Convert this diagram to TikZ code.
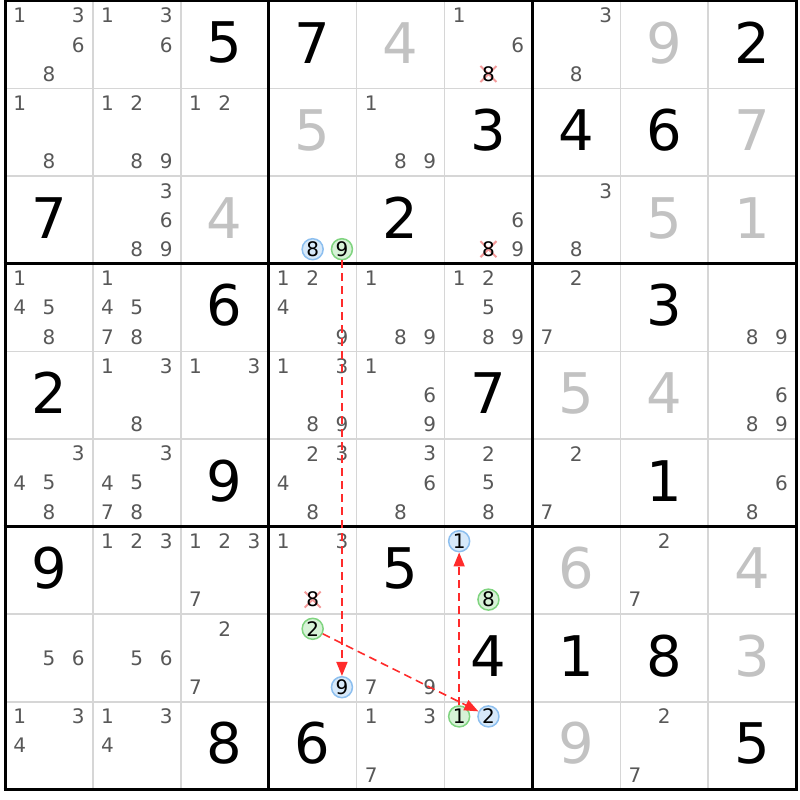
\documentclass[tikz,border=0pt]{standalone}
\usepackage{fontspec}
\setmainfont{DejaVu Sans}
\usepackage{tikz}
\usetikzlibrary{arrows.meta}
\definecolor{candgray}{HTML}{585858}
\definecolor{solvedgray}{HTML}{C2C2C2}
\definecolor{thingrid}{HTML}{D6D6D6}
\definecolor{bluefill}{HTML}{D7E9FA}
\definecolor{bluering}{HTML}{8DBFEF}
\definecolor{greenfill}{HTML}{D7F2D7}
\definecolor{greenring}{HTML}{80D480}
\definecolor{linkred}{HTML}{FF2B2B}
\definecolor{crossred}{HTML}{F39A9A}
\tikzstyle{given} = [font=\fontsize{56}{56}\selectfont, text=black, inner sep=0pt]
\tikzstyle{solved} = [given, text=solvedgray]
\tikzstyle{cand} = [font=\fontsize{20}{20}\selectfont, text=candgray, inner sep=0pt]
\tikzstyle{onring} = [cand, text=black, circle, draw=bluering, fill=bluefill,
    line width=1.5pt, minimum size=21pt]
\tikzstyle{offring} = [onring, draw=greenring, fill=greenfill]
\tikzstyle{crossmark} = [crossred, line width=2pt]
\tikzstyle{thinline} = [thingrid, line width=1.6pt]
\tikzstyle{boxline} = [black, line width=3pt]
\tikzstyle{link} = [-{Triangle[length=14pt,width=11pt]}, linkred, line width=1.6pt,
    dash pattern=on 8pt off 5pt]

\begin{document}
\begin{tikzpicture}[x=1pt, y=-1pt]
    \useasboundingbox (0,0) rectangle (800,800);

    \foreach \i in {1,2,4,5,7,8} {
        \draw[thinline] ({5+87.9*\i},1) -- ({5+87.9*\i},789.4);
        \draw[thinline] (5,{1+87.6*\i}) -- (796.1,{1+87.6*\i});
    }
    \foreach \i in {0,3,6,9} {
        \draw[boxline] ({5+87.9*\i},-0.5) -- ({5+87.9*\i},790.9);
        \draw[boxline] (3.5,{1+87.6*\i}) -- (797.6,{1+87.6*\i});
    }

    % big digits
    \foreach \r/\c/\d in {1/3/5, 1/4/7, 1/9/2, 2/6/3, 2/7/4, 2/8/6, 3/1/7, 3/5/2,
        4/3/6, 4/8/3, 5/1/2, 5/6/7, 6/3/9, 6/8/1, 7/1/9, 7/5/5, 8/6/4, 8/7/1,
        8/8/8, 9/3/8, 9/4/6, 9/9/5} {
        \node[given] (g\r\c) at ({5+87.9*(\c-0.5)}, {87.6*(\r-0.5)-1}) {\d};
    }
    \foreach \r/\c/\d in {1/5/4, 1/8/9, 2/4/5, 2/9/7, 3/3/4, 3/8/5, 3/9/1, 5/7/5,
        5/8/4, 7/7/6, 7/9/4, 8/9/3, 9/7/9} {
        \node[solved] (s\r\c) at ({5+87.9*(\c-0.5)}, {87.6*(\r-0.5)-1}) {\d};
    }

    % pencil marks
    \foreach \r/\c/\ds in {1/1/{1,3,6,8}, 1/2/{1,3,6}, 1/6/{1,6}, 1/7/{3,8},
        2/1/{1,8}, 2/2/{1,2,8,9}, 2/3/{1,2}, 2/5/{1,8,9},
        3/2/{3,6,8,9}, 3/6/{6,9}, 3/7/{3,8},
        4/1/{1,4,5,8}, 4/2/{1,4,5,7,8}, 4/4/{1,2,4,9}, 4/5/{1,8,9},
        4/6/{1,2,5,8,9}, 4/7/{2,7}, 4/9/{8,9},
        5/2/{1,3,8}, 5/3/{1,3}, 5/4/{1,3,8,9}, 5/5/{1,6,9}, 5/9/{6,8,9},
        6/1/{3,4,5,8}, 6/2/{3,4,5,7,8}, 6/4/{2,3,4,8}, 6/5/{3,6,8},
        6/6/{2,5,8}, 6/7/{2,7}, 6/9/{6,8},
        7/2/{1,2,3}, 7/3/{1,2,3,7}, 7/4/{1,3}, 7/8/{2,7},
        8/1/{5,6}, 8/2/{5,6}, 8/3/{2,7}, 8/5/{7,9},
        9/1/{1,3,4}, 9/2/{1,3,4}, 9/5/{1,3,7}, 9/8/{2,7}} {
        \foreach \d in \ds {
            \pgfmathsetmacro{\xx}{5+87.9*(\c-1)+29.3*(mod(\d-1,3)+0.5)}
            \pgfmathsetmacro{\yy}{1+87.6*(\r-1)+29.2*(floor((\d-1)/3)+0.5)}
            \node[cand] (c\r\c\d) at (\xx,\yy) {\d};
        }
    }

    % eliminated
    \foreach \r/\c/\d in {1/6/8, 3/6/8, 7/4/8} {
        \pgfmathsetmacro{\xx}{5+87.9*(\c-1)+29.3*(mod(\d-1,3)+0.5)}
        \pgfmathsetmacro{\yy}{1+87.6*(\r-1)+29.2*(floor((\d-1)/3)+0.5)}
        \draw[crossmark] (\xx-8,\yy-8) -- (\xx+8,\yy+8) (\xx-8,\yy+8) -- (\xx+8,\yy-8);
        \node[cand, text=black] (c\r\c\d) at (\xx,\yy) {\d};
    }

    % chain
    \foreach \r/\c/\d/\s in {3/4/8/onring, 3/4/9/offring, 7/6/1/onring, 7/6/8/offring,
        8/4/2/offring, 8/4/9/onring, 9/6/1/offring, 9/6/2/onring} {
        \pgfmathsetmacro{\xx}{5+87.9*(\c-1)+29.3*(mod(\d-1,3)+0.5)}
        \pgfmathsetmacro{\yy}{1+87.6*(\r-1)+29.2*(floor((\d-1)/3)+0.5)}
        \node[\s] (c\r\c\d) at (\xx,\yy) {\d};
    }
    \draw[link] (c349) -- (c849);
    \draw[link] (c842) -- (c962);
    \draw[link] (c961) -- (c761);
\end{tikzpicture}
\end{document}
